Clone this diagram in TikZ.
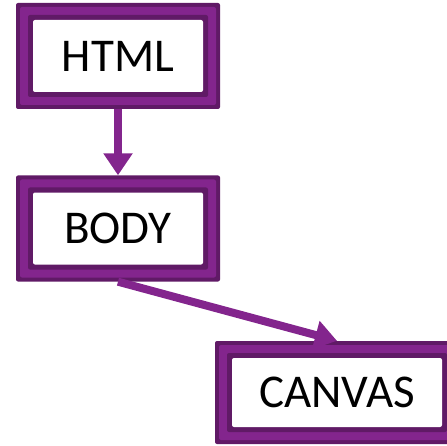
\documentclass[tikz,border=0pt]{standalone}
\usepackage{fontspec}
\setmainfont{Carlito}
\usetikzlibrary{arrows.meta}
\definecolor{purp}{RGB}{131,37,141}
\definecolor{darkpurp}{RGB}{96,26,102}
\tikzset{
  tagbox/.style={
    minimum width=#1, minimum height=106pt, inner sep=0pt,
    fill=darkpurp, rounded corners=2pt,
    font=\fontsize{47}{52}\selectfont, text=black,
    path picture={
      \fill[purp] ([shift={(4pt,4pt)}]path picture bounding box.south west)
        rectangle ([shift={(-4pt,-4pt)}]path picture bounding box.north east);
      \fill[darkpurp] ([shift={(12pt,12pt)}]path picture bounding box.south west)
        rectangle ([shift={(-12pt,-12pt)}]path picture bounding box.north east);
      \fill[white] ([shift={(17pt,17pt)}]path picture bounding box.south west)
        rectangle ([shift={(-17pt,-17pt)}]path picture bounding box.north east);
    }},
  link/.style={draw=purp, line width=8pt,
    -{Triangle[width=28pt,length=22pt]}}
}
\begin{document}
\begin{tikzpicture}[x=1pt,y=-1pt]
  \useasboundingbox (0,0) rectangle (446,446);
  \node[tagbox=204pt] (html) at (118,56) {HTML};
  \node[tagbox=204pt] (body) at (118,228.5) {BODY};
  \node[tagbox=244pt, minimum height=103pt] (canvas) at (337,392.5) {CANVAS};
  \draw[link] (html.south) -- (body.north);
  \draw[link] (body.south) -- (canvas.north);
\end{tikzpicture}
\end{document}
